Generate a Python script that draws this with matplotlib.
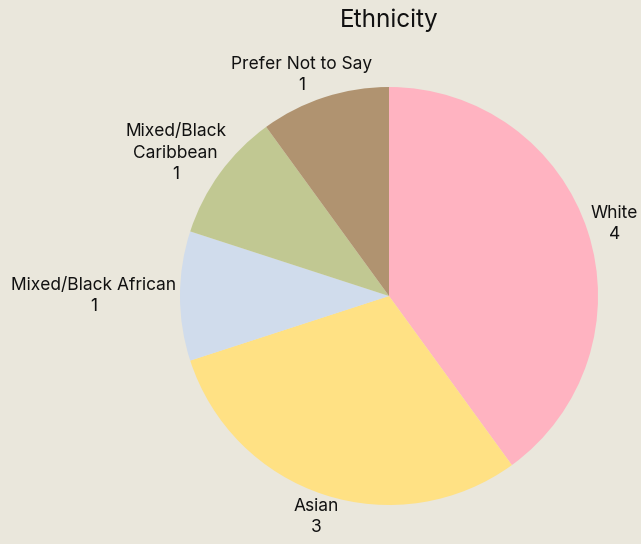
import numpy as np
import matplotlib
matplotlib.use("Agg")
import matplotlib.pyplot as plt

# -----------------------------
# Data
# -----------------------------
categories = ["White", "Asian", "Mixed/Black African", "Mixed/Black\nCaribbean", "Prefer Not to Say"]
counts = [4, 3, 1, 1, 1]
colors = ["#FFB3C1", "#FFE184", "#D0DCEC", "#C1C892", "#B09370"]
bg = "#EAE7DC"

plt.rcParams["font.family"] = ["Inter", "DejaVu Sans"]

# -----------------------------
# Figure / axes (pie centre and radius in pixels)
# -----------------------------
W, H, dpi = 641, 544, 100
cx, cy, R = 389, 296, 209

fig = plt.figure(figsize=(W / dpi, H / dpi), dpi=dpi, facecolor=bg)
ax = fig.add_axes([0, 0, 1, 1])
ax.set_facecolor(bg)

wedges, _ = ax.pie(counts, colors=colors, startangle=90, counterclock=False,
                   radius=1, wedgeprops=dict(linewidth=0))

# pie() resets the limits, so set them afterwards
ax.set_xlim(-cx / R, (W - cx) / R)
ax.set_ylim(-(H - cy) / R, cy / R)
ax.set_aspect("equal")
ax.axis("off")

# -----------------------------
# Outside labels: pushed out from the rim by half the text box
# -----------------------------
fig.canvas.draw()
renderer = fig.canvas.get_renderer()
for w, name, n in zip(wedges, categories, counts):
    ang = np.deg2rad((w.theta1 + w.theta2) / 2)
    c, s = np.cos(ang), np.sin(ang)
    t = ax.text(1.02 * c, 1.02 * s, f"{name}\n{n}", ha="center", va="center",
                fontsize=12.5, color="#111111", linespacing=1.35)
    bb = t.get_window_extent(renderer)
    t.set_position((1.02 * c + bb.width / 2 * c / R, 1.02 * s + bb.height / 2 * s / R))
    t.set_clip_on(False)

fig.text(cx / W, 1 - 20 / H, "Ethnicity", ha="center", va="center",
         fontsize=17.5, color="#111111")

fig.savefig("out.png", dpi=dpi, facecolor=bg)
